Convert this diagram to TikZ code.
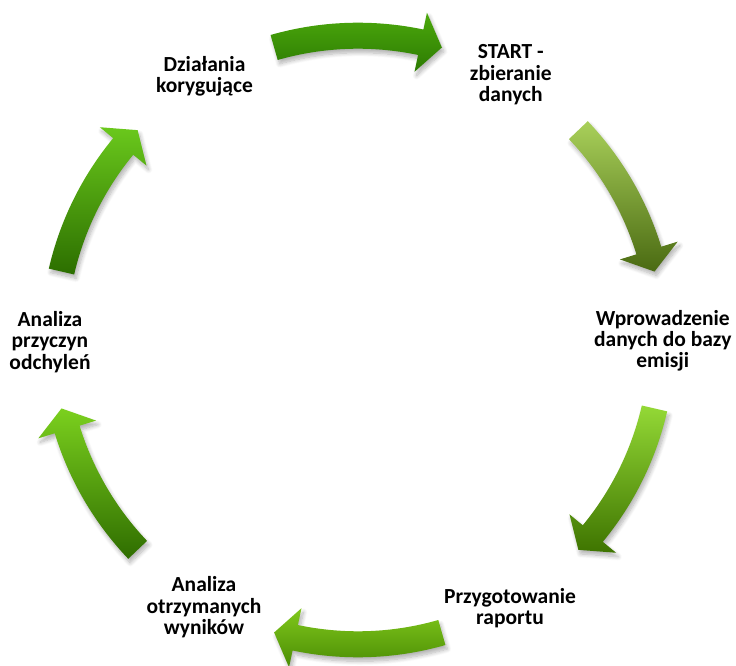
\documentclass[tikz,border=0pt]{standalone}
\usepackage{fontspec}
\setmainfont{Carlito}
\usetikzlibrary{shadows.blur}
\definecolor{aOneT}{HTML}{4CA90C}\definecolor{aOneB}{HTML}{2C7A02}
\definecolor{aTwoT}{HTML}{A9D05A}\definecolor{aTwoB}{HTML}{4A6A12}
\definecolor{aThrT}{HTML}{94D936}\definecolor{aThrB}{HTML}{3E7400}
\definecolor{aFouT}{HTML}{80C81C}\definecolor{aFouB}{HTML}{4B8D04}
\definecolor{aFivT}{HTML}{7BD01E}\definecolor{aFivB}{HTML}{2F6D00}
\definecolor{aSixT}{HTML}{6AC81C}\definecolor{aSixB}{HTML}{2C6E00}
\newcommand{\cycarrow}[4]{%
  \pgfmathsetmacro{\hA}{#2+4.1}%
  \path[cyc, top color=#3, bottom color=#4]
    (#1:317.3pt) arc[start angle=#1, end angle=\hA, radius=317.3pt]
    -- (\hA:334.5pt) -- (#2:304.3pt) -- (\hA:274.1pt)
    -- (\hA:291.3pt) arc[start angle=\hA, end angle=#1, radius=291.3pt]
    -- cycle;}
\begin{document}
\begin{tikzpicture}[
  lbl/.style={font=\bfseries\fontsize{21.5}{21.4}\selectfont, align=center, text=black, inner sep=0pt},
  cyc/.style={blur shadow={shadow xshift=2pt, shadow yshift=-4pt, shadow blur steps=8, shadow opacity=30, shadow blur radius=4pt}},
]
\useasboundingbox (-358pt,340pt) rectangle (378pt,-326pt);
% arrows (clockwise)
\cycarrow{106}{74}{aOneT}{aOneB}
\cycarrow{43.6}{13}{aTwoT}{aTwoB}
\cycarrow{-13}{-43.6}{aThrT}{aThrB}
\cycarrow{-74}{-106}{aFouT}{aFouB}
\cycarrow{-136.4}{-167}{aFivT}{aFivB}
\cycarrow{167}{136.4}{aSixT}{aSixB}
% labels
\node[lbl] (l1) at (-153.5pt,264pt) {Działania\\korygujące};
\node[lbl] (l2) at (152.8pt,265.3pt) {START -\\zbieranie\\danych};
\node[lbl] (l3) at (304.8pt,-0.8pt) {Wprowadzenie\\danych do bazy\\emisji};
\node[lbl] (l4) at (152pt,-268.3pt) {Przygotowanie\\raportu};
\node[lbl] (l5) at (-154pt,-267.5pt) {Analiza\\otrzymanych\\wyników};
\node[lbl] (l6) at (-308pt,-1.8pt) {Analiza\\przyczyn\\odchyleń};
\end{tikzpicture}
\end{document}
